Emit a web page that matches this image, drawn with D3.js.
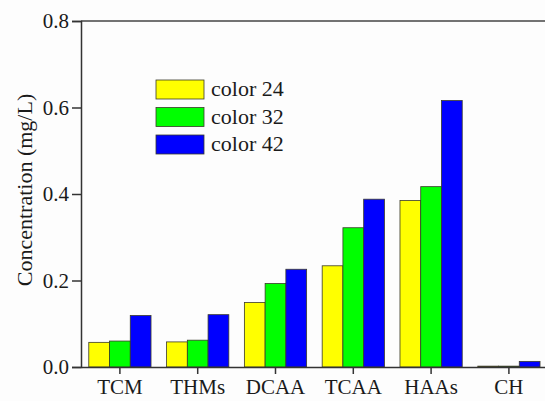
<!DOCTYPE html>
<html>
<head>
<meta charset="utf-8">
<script src="https://cdn.jsdelivr.net/npm/d3@7"></script>
<style>
  html, body { margin: 0; padding: 0; background: #fdfdfd; }
  svg { display: block; }
</style>
</head>
<body>
<svg id="chart" width="545" height="401"></svg>
<script>
// Compounds measured, one group of bars each
const categories = ["TCM", "THMs", "DCAA", "TCAA", "HAAs", "CH"];
// Series names and concentrations (mg/L)
const seriesNames = ["color 24", "color 32", "color 42"];
const color24 = [0.057, 0.058, 0.149, 0.234, 0.385, 0.002];
const color32 = [0.060, 0.062, 0.193, 0.322, 0.417, 0.002];
const color42 = [0.119, 0.121, 0.226, 0.388, 0.616, 0.013];
const seriesColors = ["#ffff00", "#00ff00", "#0000ff"];
const yTicks = [0.0, 0.2, 0.4, 0.6, 0.8];

const seriesValues = [color24, color32, color42];
const serif = '"Liberation Serif", "Times New Roman", serif';

const svg = d3.select("#chart");
const margin = { left: 81, top: 21, bottom: 34 };
const plotBottom = 401 - margin.bottom;

const x = d3.scaleBand()
  .domain(categories)
  .range([margin.left, margin.left + 6 * 77.8])
  .paddingInner(0.2)
  .paddingOuter(0.1);

const xSub = d3.scaleBand()
  .domain(seriesNames)
  .range([0, x.bandwidth()]);

const y = d3.scaleLinear().domain([0, 0.8]).range([plotBottom, margin.top]);

// Bars
const groups = svg.append("g").selectAll("g")
  .data(categories)
  .join("g")
  .attr("transform", d => `translate(${x(d)},0)`);

groups.selectAll("rect")
  .data((c, i) => seriesNames.map((s, k) => ({ s, k, v: seriesValues[k][i] })))
  .join("rect")
  .attr("x", d => xSub(d.s))
  .attr("width", xSub.bandwidth())
  .attr("y", d => y(d.v))
  .attr("height", d => y(0) - y(d.v))
  .attr("fill", d => seriesColors[d.k])
  .attr("stroke", "#3a3a2a")
  .attr("stroke-width", 0.8);

// Top frame line
svg.append("line")
  .attr("x1", margin.left).attr("x2", 545)
  .attr("y1", margin.top).attr("y2", margin.top)
  .attr("stroke", "#444").attr("stroke-width", 1.5);

// Y axis
const yAxis = svg.append("g")
  .attr("transform", `translate(${margin.left},0)`)
  .call(d3.axisLeft(y).tickValues(yTicks).tickFormat(d3.format(".1f")).tickSize(9).tickPadding(3));

// X axis
const xAxis = svg.append("g")
  .attr("transform", `translate(0,${plotBottom})`)
  .call(d3.axisBottom(x).tickSize(7).tickPadding(5).tickSizeOuter(0));

[yAxis, xAxis].forEach(a => {
  a.select(".domain").attr("stroke", "#333").attr("stroke-width", 1.5);
  a.selectAll(".tick line").attr("stroke", "#333").attr("stroke-width", 1.5);
  a.selectAll(".tick text")
    .style("font-family", serif).style("font-size", "21px").attr("fill", "#1a1a1a");
});

// Y axis title
svg.append("text")
  .attr("transform", `translate(32,190) rotate(-90)`)
  .attr("text-anchor", "middle")
  .style("font-family", serif).style("font-size", "22px")
  .attr("fill", "#1a1a1a")
  .text("Concentration (mg/L)");

// Legend
const legend = svg.append("g").attr("transform", "translate(156,80)");
const items = legend.selectAll("g")
  .data(seriesNames)
  .join("g")
  .attr("transform", (d, i) => `translate(0,${i * 27.5})`);
items.append("rect")
  .attr("width", 48).attr("height", 19)
  .attr("fill", (d, i) => seriesColors[i])
  .attr("stroke", "#3a3a2a").attr("stroke-width", 0.8);
items.append("text")
  .attr("x", 55).attr("y", 16)
  .style("font-family", serif).style("font-size", "22px")
  .attr("fill", "#1a1a1a")
  .text(d => d);
</script>
</body>
</html>
